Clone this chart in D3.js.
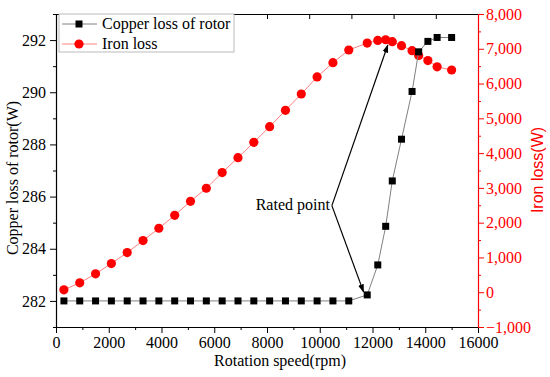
<!DOCTYPE html>
<html>
<head>
<meta charset="utf-8">
<script src="https://cdnjs.cloudflare.com/ajax/libs/d3/7.8.5/d3.min.js"></script>
<style>
  body { margin: 0; background: #fff; }
  svg text { font-family: "Liberation Serif", "Times New Roman", serif; }
</style>
</head>
<body>
<script>
// rotation speed (rpm) for each measured point
var speed = [300, 900, 1500, 2100, 2700, 3300, 3900, 4500, 5100, 5700, 6300, 6900, 7500, 8100,
             8700, 9300, 9900, 10500, 11100, 11800, 12200, 12500, 12750, 13100, 13500, 13750,
             14100, 14450, 15000];

// copper loss of rotor (W), left axis
var copperLoss = [282, 282, 282, 282, 282, 282, 282, 282, 282, 282, 282, 282, 282, 282,
                  282, 282, 282, 282, 282, 282.23, 283.38, 284.86, 286.6, 288.2, 290.03, 291.55,
                  291.95, 292.1, 292.1];

// iron loss (W), right axis
var ironLoss = [70, 270, 530, 825, 1140, 1485, 1840, 2210, 2615, 2990, 3440, 3870, 4310, 4760,
                5230, 5700, 6190, 6600, 6965, 7165, 7240, 7260, 7205, 7090, 6945, 6810,
                6660, 6480, 6390];

var xTicks = [0, 2000, 4000, 6000, 8000, 10000, 12000, 14000, 16000];
var leftTicks = [282, 284, 286, 288, 290, 292];
var rightTicks = [-1000, 0, 1000, 2000, 3000, 4000, 5000, 6000, 7000, 8000];

var seriesNames = ["Copper loss of rotor", "Iron loss"];

var width = 550;
var height = 377;
var margin = {top: 14, right: 72, bottom: 50, left: 56};

var serif = "'Liberation Serif', 'Times New Roman', serif";
var fontSize = "16px";

var svg = d3.select("body")
            .append("svg")
            .attr("width", width)
            .attr("height", height);

var x = d3.scaleLinear()
          .domain([0, 16000])
          .range([margin.left, width - margin.right]);

var yLeft = d3.scaleLinear()
              .domain([281, 293])
              .range([height - margin.bottom, margin.top]);

var yRight = d3.scaleLinear()
               .domain([-1000, 8000])
               .range([height - margin.bottom, margin.top]);

function styleText(g, color) {
  g.selectAll("text")
   .attr("font-family", serif)
   .attr("font-size", fontSize)
   .attr("fill", color);
}

// minor ticks first so the majors draw over them
svg.append("g")
   .attr("transform", "translate(0," + (height - margin.bottom) + ")")
   .call(d3.axisBottom(x).tickValues(d3.range(1000, 16000, 2000)).tickSize(3).tickFormat(""))
   .call(function(g) { g.select(".domain").remove(); });

svg.append("g")
   .attr("transform", "translate(" + margin.left + ",0)")
   .call(d3.axisLeft(yLeft).tickValues(d3.range(281, 294, 2)).tickSize(3).tickFormat(""))
   .call(function(g) { g.select(".domain").remove(); });

svg.append("g")
   .attr("transform", "translate(" + (width - margin.right) + ",0)")
   .call(d3.axisRight(yRight).tickValues(d3.range(-500, 8000, 1000)).tickSize(3).tickFormat(""))
   .call(function(g) {
     g.select(".domain").remove();
     g.selectAll("line").attr("stroke", "#ff0000");
   });

// top axis: inward ticks only
svg.append("g")
   .attr("transform", "translate(0," + margin.top + ")")
   .call(d3.axisTop(x).tickValues(d3.range(0, 16001, 1600)).tickSizeInner(-5).tickSizeOuter(0).tickFormat(""))
   .call(function(g) { g.select(".domain").attr("stroke-width", 1.2); });

// bottom axis
svg.append("g")
   .attr("transform", "translate(0," + (height - margin.bottom) + ")")
   .call(d3.axisBottom(x).tickValues(xTicks).tickSize(6).tickPadding(4).tickSizeOuter(0)
           .tickFormat(d3.format("d")))
   .call(function(g) {
     g.select(".domain").attr("stroke-width", 1.2);
     styleText(g, "#000");
   });

// left axis
svg.append("g")
   .attr("transform", "translate(" + margin.left + ",0)")
   .call(d3.axisLeft(yLeft).tickValues(leftTicks).tickSize(6).tickPadding(4).tickSizeOuter(0)
           .tickFormat(d3.format("d")))
   .call(function(g) {
     g.select(".domain").attr("stroke-width", 1.2);
     styleText(g, "#000");
   });

// right axis, red
svg.append("g")
   .attr("transform", "translate(" + (width - margin.right) + ",0)")
   .call(d3.axisRight(yRight).tickValues(rightTicks).tickSize(6).tickPadding(2).tickSizeOuter(0)
           .tickFormat(d3.format(",")))
   .call(function(g) {
     g.select(".domain").attr("stroke", "#ff0000").attr("stroke-width", 1.2);
     g.selectAll("line").attr("stroke", "#ff0000");
     styleText(g, "#ff0000");
   });

// axis titles
svg.append("text")
   .attr("x", 280)
   .attr("y", 366)
   .attr("text-anchor", "middle")
   .style("font-size", fontSize)
   .text("Rotation speed(rpm)");

svg.append("text")
   .attr("transform", "translate(18,178) rotate(-90)")
   .attr("text-anchor", "middle")
   .style("font-size", fontSize)
   .text("Copper loss of rotor(W)");

svg.append("text")
   .attr("transform", "translate(543,170) rotate(-90)")
   .attr("text-anchor", "middle")
   .style("font-family", "'Liberation Sans', Arial, sans-serif")
   .style("font-size", fontSize)
   .attr("fill", "#ff0000")
   .text("Iron loss(W)");

var pts = speed.map(function(s, i) {
  return {speed: s, copper: copperLoss[i], iron: ironLoss[i]};
});

// iron loss series
var ironLine = d3.line()
                 .x(function(d) { return x(d.speed); })
                 .y(function(d) { return yRight(d.iron); });

svg.append("path")
   .datum(pts)
   .attr("d", ironLine)
   .attr("fill", "none")
   .attr("stroke", "#ff8080")
   .attr("stroke-width", 1);

svg.selectAll("circle.iron")
   .data(pts)
   .enter()
   .append("circle")
   .attr("class", "iron")
   .attr("cx", function(d) { return x(d.speed); })
   .attr("cy", function(d) { return yRight(d.iron); })
   .attr("r", 4.6)
   .attr("fill", "#ff0000");

// copper loss series
var copperLine = d3.line()
                   .x(function(d) { return x(d.speed); })
                   .y(function(d) { return yLeft(d.copper); });

svg.append("path")
   .datum(pts)
   .attr("d", copperLine)
   .attr("fill", "none")
   .attr("stroke", "#808080")
   .attr("stroke-width", 1);

var sq = 7;
svg.selectAll("rect.copper")
   .data(pts)
   .enter()
   .append("rect")
   .attr("class", "copper")
   .attr("x", function(d) { return x(d.speed) - sq / 2; })
   .attr("y", function(d) { return yLeft(d.copper) - sq / 2; })
   .attr("width", sq)
   .attr("height", sq)
   .attr("fill", "#000");

// "Rated point" annotation, anchored in data units
var apex = {speed: 10460, iron: 2490};
var tips = [{speed: 12580, iron: 7110}, {speed: 11660, iron: 10}];

svg.append("defs").append("marker")
   .attr("id", "arrow")
   .attr("viewBox", "0 0 10 10")
   .attr("refX", 9)
   .attr("refY", 5)
   .attr("markerWidth", 7)
   .attr("markerHeight", 7)
   .attr("orient", "auto")
   .append("path")
   .attr("d", "M0,1.5 L10,5 L0,8.5 Z")
   .attr("fill", "#000");

svg.selectAll("line.arrow")
   .data(tips)
   .enter()
   .append("line")
   .attr("class", "arrow")
   .attr("x1", x(apex.speed))
   .attr("y1", yRight(apex.iron))
   .attr("x2", function(d) { return x(d.speed); })
   .attr("y2", function(d) { return yRight(d.iron); })
   .attr("stroke", "#000")
   .attr("stroke-width", 1.2)
   .attr("marker-end", "url(#arrow)");

svg.append("text")
   .attr("x", x(apex.speed) - 2)
   .attr("y", yRight(apex.iron) + 4)
   .attr("text-anchor", "end")
   .style("font-size", fontSize)
   .text("Rated point");

// legend
var legend = svg.append("g")
                .attr("transform", "translate(59,14)");

legend.append("rect")
      .attr("width", 175)
      .attr("height", 38)
      .attr("fill", "#fff")
      .attr("stroke", "#aaa")
      .attr("stroke-width", 0.8);

seriesNames.forEach(function(name, i) {
  var row = legend.append("g").attr("transform", "translate(0," + (10 + i * 20) + ")");
  row.append("line")
     .attr("x1", 3).attr("x2", 38)
     .attr("stroke", i === 0 ? "#808080" : "#ff8080")
     .attr("stroke-width", 1);
  if (i === 0) {
    row.append("rect")
       .attr("x", 20 - sq / 2).attr("y", -sq / 2)
       .attr("width", sq).attr("height", sq)
       .attr("fill", "#000");
  } else {
    row.append("circle")
       .attr("cx", 20).attr("r", 4.6)
       .attr("fill", "#ff0000");
  }
  row.append("text")
     .attr("x", 43)
     .attr("y", 5)
     .style("font-size", fontSize)
     .text(name);
});
</script>
</body>
</html>
